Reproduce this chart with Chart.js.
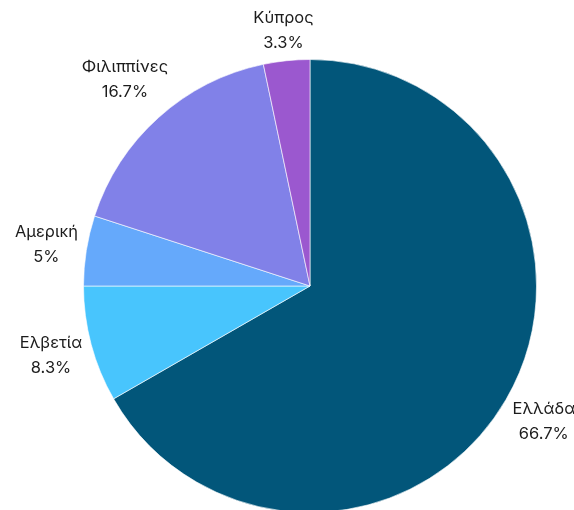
<!DOCTYPE html>
<html>
<head>
<meta charset="utf-8">
<script src="https://cdn.jsdelivr.net/npm/chart.js@4"></script>
<style>
  html,body{margin:0;padding:0;background:#fff;overflow:hidden;}
  #wrap{width:574px;height:520px;}
</style>
</head>
<body>
<div id="wrap"><canvas id="pieChart" width="574" height="520"></canvas></div>
<script>
  /* ── DATA ── */
  const countries = ['Ελλάδα','Ελβετία','Αμερική','Φιλιππίνες','Κύπρος'];
  const shares = [66.7, 8.3, 5, 16.7, 3.3];
  const sliceColors = ['#02567a','#48c5fd','#65a9fb','#8181e8','#9b58cf'];

  /* ── OUTSIDE LABELS ── */
  const outerLabels = {
    id:'outerLabels',
    afterDatasetsDraw(chart){
      const ctx = chart.ctx;
      const meta = chart.getDatasetMeta(0);
      ctx.save();
      ctx.font = '16.5px Inter, "Noto Sans", sans-serif';
      ctx.fillStyle = '#1c1c1c';
      ctx.textAlign = 'center';
      ctx.textBaseline = 'middle';
      const lineH = 25, halfH = 21, gap = 6;
      meta.data.forEach((arc,i)=>{
        const mid = (arc.startAngle+arc.endAngle)/2;
        const ux = Math.cos(mid), uy = Math.sin(mid);
        const l1 = chart.data.labels[i];
        const l2 = shares[i]+'%';
        const w = Math.max(ctx.measureText(l1).width, ctx.measureText(l2).width)/2;
        const r = arc.outerRadius + gap + w*Math.abs(ux) + halfH*Math.abs(uy);
        const cx = arc.x + r*ux, cy = arc.y + r*uy;
        ctx.fillText(l1, cx, cy - lineH/2);
        ctx.fillText(l2, cx, cy + lineH/2);
      });
      ctx.restore();
    }
  };

  new Chart(document.getElementById('pieChart'),{
    type:'pie',
    data:{
      labels:countries,
      datasets:[{
        data:shares,
        backgroundColor:sliceColors,
        borderColor:'rgba(255,255,255,.6)',
        borderWidth:1
      }]
    },
    options:{
      responsive:false, animation:false,
      layout:{padding:{left:83,right:37,top:59,bottom:7}},
      plugins:{legend:{display:false},tooltip:{enabled:false}}
    },
    plugins:[outerLabels]
  });
</script>
</body>
</html>
